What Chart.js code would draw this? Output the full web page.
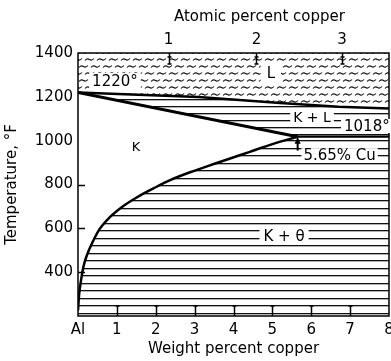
<!DOCTYPE html>
<html><head><meta charset="utf-8">
<script src="https://cdn.jsdelivr.net/npm/chart.js@4/dist/chart.umd.min.js"></script>
<style>html,body{margin:0;padding:0;background:#fff;overflow:hidden}</style>
</head><body>
<canvas id="c" width="391" height="361"></canvas>
<script>
// ---- data ----
const weightTicks = [0, 1, 2, 3, 4, 5, 6, 7, 8];
const weightTickLabels = ['Al', '1', '2', '3', '4', '5', '6', '7', '8'];
const atomicTickWeight = [2.33, 4.59, 6.79];
const atomicTickLabels = ['1', '2', '3'];
const tempTicks = [400, 600, 800, 1000, 1200, 1400];

const solvusWt = [0, 0.03, 0.08, 0.14, 0.23, 0.37, 0.55, 0.82, 1.15, 1.52, 1.95, 2.37, 2.9, 3.57, 4.4, 5.0, 5.65];
const solvusT  = [225, 300, 365, 425, 478, 535, 595, 651, 700, 742, 783, 820, 857, 898, 948, 984, 1018];
const solidusWt = [0, 5.65];
const solidusT  = [1220, 1018];
const liquidusWt = [0, 3.1, 5.2, 6.7, 8];
const liquidusT  = [1220, 1199, 1172, 1155, 1147];
const eutecticWt = [5.62, 8];
const eutecticT  = [1018, 1018];

// ---- styles ----
Chart.defaults.font.family = "'DejaVu Sans', sans-serif";
Chart.defaults.color = '#000';

function hPattern(h, rows, opaque) {
  const cv = document.createElement('canvas'); cv.width = 8; cv.height = h;
  const g = cv.getContext('2d');
  if (opaque) { g.fillStyle = '#fff'; g.fillRect(0, 0, 8, h); }
  rows.forEach(r => {
    g.fillStyle = '#111'; g.fillRect(0, r, 8, 1);
    g.fillStyle = 'rgba(0,0,0,0.3)'; g.fillRect(0, r + 1, 8, 1);
  });
  return g.createPattern(cv, 'repeat');
}
function wavePattern() {
  const cv = document.createElement('canvas'); cv.width = 24; cv.height = 14;
  const g = cv.getContext('2d');
  g.strokeStyle = '#111'; g.lineWidth = 1.1;
  const wave = (x0, y) => {
    g.beginPath(); g.moveTo(x0, y + 1);
    g.quadraticCurveTo(x0 + 2.2, y - 1.5, x0 + 4.5, y);
    g.quadraticCurveTo(x0 + 6.8, y + 1.5, x0 + 9, y - 1);
    g.stroke();
  };
  wave(1, 3.5); wave(13, 3.5); wave(7, 10.5); wave(19, 10.5); wave(-5, 10.5);
  return g.createPattern(cv, 'repeat');
}
const thetaPat = hPattern(15, [5, 13], true);
const klPat = hPattern(7, [1], false);
const wavePat = wavePattern();

const pts = (xs, ys) => xs.map((v, i) => ({ x: v, y: ys[i] }));

const notes = [
  { text: '1220°', x: 0.95, t: 1272, size: 15, mx: 3, my: 2 },
  { text: 'L', x: 4.96, t: 1309, size: 15, mx: 6, my: 5 },
  { text: 'K + L', x: 6.02, t: 1105, size: 14, mx: 3, my: 1 },
  { text: '1018°', x: 7.43, t: 1067, size: 15, mx: 3, my: 1 },
  { text: 'K', x: 1.49, t: 975, size: 13, mx: 0, my: 0, nobox: true },
  { text: '5.65% Cu', x: 6.73, t: 934, size: 15, mx: 2, my: 1 },
  { text: 'K + θ', x: 5.3, t: 564, size: 15, mx: 4, my: 2 }
];
const topTitle = 'Atomic percent copper';

const decor = {
  id: 'decor',
  beforeDraw(chart) {
    const c = chart.ctx; c.save(); c.fillStyle = '#fff'; c.fillRect(0, 0, chart.width, chart.height); c.restore();
  },
  afterDatasetsDraw(chart) {
    const { ctx, chartArea: a, scales } = chart;
    const x = scales.x, y = scales.y, xt = scales.xTop;
    ctx.save();
    ctx.strokeStyle = '#000';
    ctx.lineWidth = 1.5;
    // inner ticks bottom
    weightTicks.slice(1, -1).forEach(v => {
      const px = Math.round(x.getPixelForValue(v)) + 0.5;
      ctx.beginPath(); ctx.moveTo(px, a.bottom); ctx.lineTo(px, a.bottom - 10); ctx.stroke();
      ctx.beginPath(); ctx.moveTo(px - 2, a.bottom - 10); ctx.lineTo(px + 2, a.bottom - 10); ctx.stroke();
    });
    // inner ticks top (atomic %)
    atomicTickWeight.forEach(v => {
      const px = Math.round(xt.getPixelForValue(v)) + 0.5;
      ctx.beginPath(); ctx.moveTo(px, a.top); ctx.lineTo(px, a.top + 11); ctx.stroke();
      ctx.beginPath(); ctx.moveTo(px - 2, a.top + 4); ctx.lineTo(px + 2, a.top + 4); ctx.stroke();
      ctx.beginPath(); ctx.moveTo(px - 2, a.top + 11); ctx.lineTo(px + 2, a.top + 11); ctx.stroke();
    });
    // inner ticks left
    tempTicks.slice(0, 3).forEach(v => {
      const py = Math.round(y.getPixelForValue(v)) + 0.5;
      ctx.beginPath(); ctx.moveTo(a.left, py); ctx.lineTo(a.left + 7, py); ctx.stroke();
    });
    // frame
    ctx.strokeRect(a.left, a.top, a.right - a.left, a.bottom - a.top);
    // labels
    ctx.textAlign = 'center'; ctx.textBaseline = 'middle';
    notes.forEach(n => {
      ctx.font = n.size + "px 'DejaVu Sans'";
      const cx = x.getPixelForValue(n.x), cy = y.getPixelForValue(n.t);
      const w = ctx.measureText(n.text).width, h = n.size * 0.8;
      if (!n.nobox) { ctx.fillStyle = '#fff'; ctx.fillRect(cx - w / 2 - n.mx, cy - h / 2 - n.my, w + 2 * n.mx, h + 2 * n.my); }
      ctx.fillStyle = '#000'; ctx.fillText(n.text, cx, cy + 1);
    });
    // top axis title, centred over the middle atomic tick
    ctx.font = "15px 'DejaVu Sans'";
    ctx.fillText(topTitle, xt.getPixelForValue(atomicTickWeight[1]) + 3, 17);
    // arrow to eutectic point
    const ax = x.getPixelForValue(5.65), ay0 = y.getPixelForValue(955), ay1 = y.getPixelForValue(1018);
    ctx.lineWidth = 2;
    ctx.beginPath(); ctx.moveTo(ax, ay0); ctx.lineTo(ax, ay1 + 4); ctx.stroke();
    ctx.beginPath(); ctx.moveTo(ax, ay1); ctx.lineTo(ax - 3, ay1 + 7); ctx.lineTo(ax + 3, ay1 + 7); ctx.closePath(); ctx.fill();
    ctx.restore();
  }
};

const tickFont = { size: 15, family: "'DejaVu Sans'" };
const titleFont = { size: 15, family: "'DejaVu Sans'" };
const noGrid = { display: false, drawTicks: false, tickLength: 0 };

new Chart(document.getElementById('c'), {
  type: 'line',
  data: {
    datasets: [
      { label: 'eutectic', data: pts(eutecticWt, eutecticT), borderColor: '#000', borderWidth: 2.2, fill: 'start', backgroundColor: thetaPat, pointRadius: 0 },
      { label: 'solvus', data: pts(solvusWt, solvusT), borderColor: '#000', borderWidth: 2.5, fill: 'start', backgroundColor: thetaPat, pointRadius: 0, cubicInterpolationMode: 'monotone' },
      { label: 'solidus', data: pts(solidusWt, solidusT), borderColor: '#000', borderWidth: 3, fill: 'start', backgroundColor: '#fff', pointRadius: 0 },
      { label: 'liquidus', data: pts(liquidusWt, liquidusT), borderColor: '#000', borderWidth: 2.5, fill: 'start', backgroundColor: klPat, pointRadius: 0 },
      { label: 'liquid', data: pts(liquidusWt, liquidusT), borderColor: 'rgba(0,0,0,0)', borderWidth: 0, fill: 'end', backgroundColor: wavePat, pointRadius: 0 }
    ]
  },
  options: {
    responsive: false,
    animation: false,
    devicePixelRatio: 1,
    layout: { padding: { left: 0, right: 2, top: 0, bottom: 0 } },
    plugins: { legend: { display: false }, tooltip: { enabled: false }, filler: { drawTime: 'beforeDatasetsDraw' } },
    scales: {
      x: {
        type: 'linear', position: 'bottom', min: 0, max: 8,
        afterBuildTicks: s => { s.ticks = weightTicks.map(v => ({ value: v })); },
        afterFit: s => { s.height = 45; s.paddingLeft = 0; s.paddingRight = 0; },
        ticks: { font: tickFont, padding: 5, autoSkip: false, maxRotation: 0, callback: (v, i) => weightTickLabels[i] },
        grid: noGrid, border: { display: false },
        title: { display: true, text: 'Weight percent copper', font: titleFont, padding: { top: 0, bottom: 3 } }
      },
      xTop: {
        type: 'linear', position: 'top', min: 0, max: 8,
        afterBuildTicks: s => { s.ticks = atomicTickWeight.map(v => ({ value: v })); },
        afterFit: s => { s.height = 53; s.paddingLeft = 0; s.paddingRight = 0; },
        ticks: { font: tickFont, padding: 4, autoSkip: false, maxRotation: 0, callback: (v, i) => atomicTickLabels[i] },
        grid: noGrid, border: { display: false },
        title: { display: false }
      },
      y: {
        type: 'linear', position: 'left', min: 200, max: 1400,
        afterBuildTicks: s => { s.ticks = tempTicks.map(v => ({ value: v })); },
        afterFit: s => { s.width = 78; s.paddingTop = 0; s.paddingBottom = 0; },
        ticks: { font: tickFont, padding: 5, autoSkip: false, callback: v => String(v) },
        grid: noGrid, border: { display: false },
        title: { display: true, text: 'Temperature, °F', font: titleFont, padding: { top: 3, bottom: 0 } }
      }
    }
  },
  plugins: [decor]
});
</script>
</body></html>
